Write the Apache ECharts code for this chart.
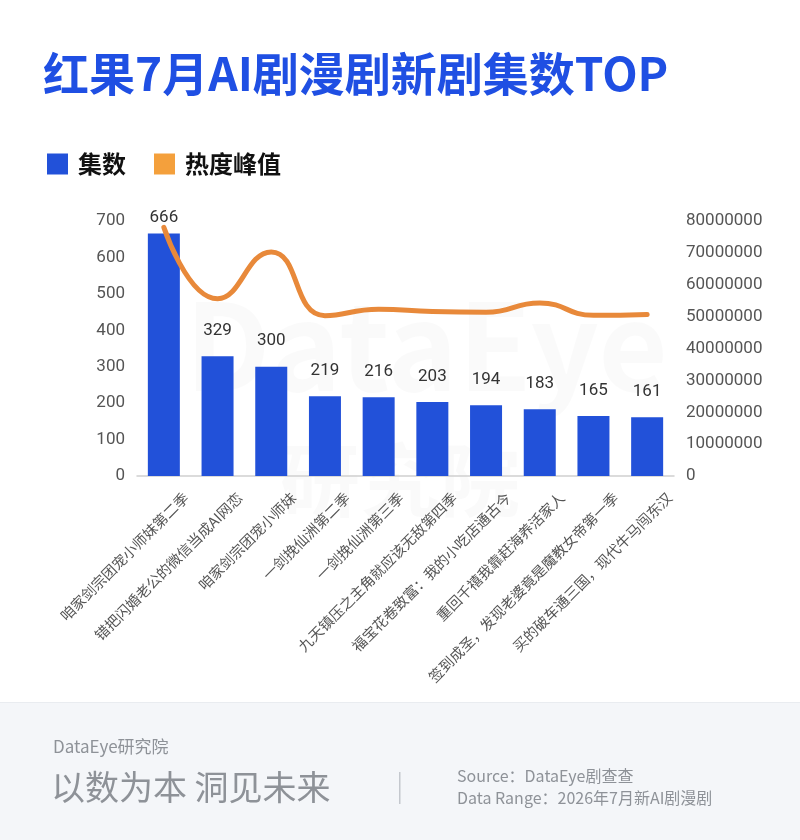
<!DOCTYPE html>
<html>
<head>
<meta charset="utf-8">
<script src="https://cdn.jsdelivr.net/npm/echarts@6/dist/echarts.min.js"></script>
<style>
html,body{margin:0;padding:0;background:#fff;}
#c{width:800px;height:840px;}
</style>
</head>
<body>
<div id="c"></div>
<script>
const categories = [
  '咱家剑宗团宠小师妹第二季',
  '错把闪婚老公的微信当成AI网恋',
  '咱家剑宗团宠小师妹',
  '一剑挽仙洲第二季',
  '一剑挽仙洲第三季',
  '九天镇压之主角就应该无敌第四季',
  '福宝花卷致富：我的小吃店通古今',
  '重回千禧我靠赶海养活家人',
  '签到成圣，发现老婆竟是魔教女帝第一季',
  '买的破车通三国，现代牛马闯东汉'
];
const episodes = [666, 329, 300, 219, 216, 203, 194, 183, 165, 161];
const heatPeak = [78000000, 55600000, 70300000, 50300000, 52300000, 51600000, 51400000, 54300000, 50400000, 50700000];
const leftTicks = {min: 0, max: 700, interval: 100};
const rightTicks = {min: 0, max: 80000000, interval: 10000000};

const FONT = '"Noto Sans CJK SC", "Noto Sans", sans-serif';
const NUMFONT = 'Roboto, "Noto Sans", sans-serif';
const chart = echarts.init(document.getElementById('c'), null, {renderer: 'canvas'});

const barData = episodes.map((v, i) => i === 0 ? {value: v, label: {distance: 7}} : v);

chart.setOption({
  backgroundColor: '#ffffff',
  textStyle: {fontFamily: FONT},
  title: {
    text: '红果7月AI剧漫剧新剧集数TOP',
    left: 38, top: 46,
    textStyle: {fontSize: 46, fontWeight: 'bold', color: '#1f4fe3', fontFamily: FONT}
  },
  legend: {
    left: 42, top: 147,
    icon: 'rect', itemWidth: 21, itemHeight: 21, itemGap: 28,
    textStyle: {fontSize: 24, fontWeight: 'bold', color: '#111', fontFamily: FONT, padding: [0, 0, 0, 5]},
    data: ['集数', '热度峰值']
  },
  graphic: [
    {type: 'rect', left: 0, top: 703, z: -10, shape: {width: 800, height: 137}, style: {fill: '#f4f6f9'}},
    {type: 'rect', left: 0, top: 702, z: -10, shape: {width: 800, height: 1}, style: {fill: '#e9ecf0'}},
    {type: 'text', left: 185, top: 285, z: -5, style: {text: 'DataEye', fontSize: 120, fontWeight: 'bold', fill: 'rgba(0,0,0,0.018)', fontFamily: FONT}},
    {type: 'text', left: 280, top: 440, z: -5, style: {text: '研究院', fontSize: 80, fontWeight: 'bold', fill: 'rgba(0,0,0,0.018)', fontFamily: FONT}},
    {type: 'text', left: 53, top: 738, style: {text: 'DataEye研究院', fontSize: 17, fill: '#8e9298', fontFamily: FONT}},
    {type: 'text', left: 51, top: 770, style: {text: '以数为本 洞见未来', fontSize: 34, fill: '#8e9298', fontFamily: FONT}},
    {type: 'rect', left: 399, top: 772, shape: {width: 1.5, height: 32}, style: {fill: '#c4c8ce'}},
    {type: 'text', left: 457, top: 768, style: {text: 'Source：DataEye剧查查', fontSize: 16, fill: '#8e9298', fontFamily: FONT}},
    {type: 'text', left: 457, top: 790, style: {text: 'Data Range：2026年7月新AI剧漫剧', fontSize: 16, fill: '#8e9298', fontFamily: FONT}}
  ],
  grid: {left: 137, right: 126, top: 221, height: 255, containLabel: false},
  xAxis: {
    type: 'category',
    data: categories,
    axisLine: {lineStyle: {color: '#cfcfcf', width: 1.5}},
    axisTick: {show: false},
    axisLabel: {
      interval: 0, rotate: 45, fontSize: 14.5, color: '#555',
      margin: -3, verticalAlign: 'top', padding: [24, 0, 0, 0], fontFamily: FONT
    }
  },
  yAxis: [
    {
      type: 'value', min: leftTicks.min, max: leftTicks.max, interval: leftTicks.interval,
      axisLine: {show: false}, axisTick: {show: false}, splitLine: {show: false},
      axisLabel: {fontSize: 17, color: '#555', margin: 12, fontFamily: NUMFONT, formatter: v => String(v)}
    },
    {
      type: 'value', min: rightTicks.min, max: rightTicks.max, interval: rightTicks.interval,
      axisLine: {show: false}, axisTick: {show: false}, splitLine: {show: false},
      axisLabel: {fontSize: 17, color: '#555', margin: 12, fontFamily: NUMFONT, formatter: v => String(v)}
    }
  ],
  series: [
    {
      name: '集数', type: 'bar', data: barData, barWidth: 32,
      itemStyle: {color: '#2251d9'},
      label: {show: true, position: 'top', distance: 17, fontSize: 17, color: '#333', fontFamily: NUMFONT},
      z: 2
    },
    {
      name: '热度峰值', type: 'line', yAxisIndex: 1, data: heatPeak,
      smooth: true, symbol: 'none',
      itemStyle: {color: '#f4a03c'},
      lineStyle: {color: '#e8893a', width: 5, cap: 'round'},
      z: 3
    }
  ]
});
</script>
</body>
</html>
